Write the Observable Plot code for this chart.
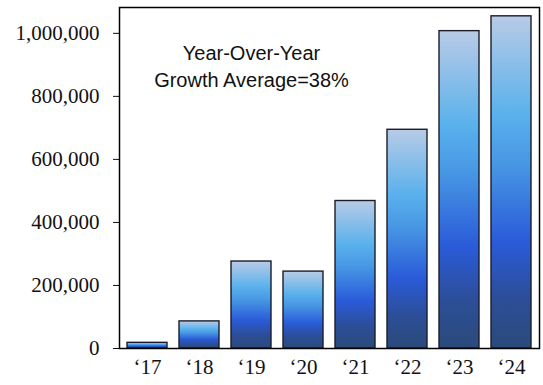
<!DOCTYPE html>
<html>
<head>
<meta charset="utf-8">
<script src="https://cdn.jsdelivr.net/npm/d3@7"></script>
<script src="https://cdn.jsdelivr.net/npm/@observablehq/plot@0.6"></script>
<style>
  html, body { margin: 0; padding: 0; background: #fff; }
  #chart svg { display: block; }
</style>
</head>
<body>
<div id="chart"></div>
<script>
const years = ["‘17", "‘18", "‘19", "‘20", "‘21", "‘22", "‘23", "‘24"];
const values = [18000, 86000, 276000, 244000, 468000, 694000, 1007000, 1054000];
const yTicks = [0, 200000, 400000, 600000, 800000, 1000000];
const annotation = ["Year-Over-Year\nGrowth Average=38%"];

const data = years.map((year, i) => ({year, value: values[i]}));

const chart = Plot.plot({
  width: 543,
  height: 385,
  marginLeft: 119,
  marginRight: 4,
  marginTop: 7,
  marginBottom: 37,
  style: {fontFamily: "'Liberation Serif', 'Times New Roman', serif", fontSize: "21px", color: "#111", background: "#fff"},
  x: {domain: years, paddingInner: 0.23, paddingOuter: 0.1, label: null, tickSize: 0, tickPadding: 11},
  y: {domain: [0, 1082000], ticks: yTicks, tickFormat: d3.format(","), label: null, tickSize: 6, tickPadding: 14},
  marks: [
    Plot.barY(data, {x: "year", y: "value", fill: "url(#barGrad)", stroke: "#1b1d2b", strokeWidth: 1.4}),
    Plot.frame({stroke: "#000", strokeWidth: 1.5}),
    Plot.text(annotation, {x: () => "‘19", frameAnchor: "top", lineAnchor: "top", dy: 33, lineHeight: 1.35,
      fontFamily: "'Liberation Sans', Arial, sans-serif", fontSize: 20, fill: "#111", text: d => d})
  ]
});

const svg = d3.select(chart);
const defs = svg.insert("defs", ":first-child");
const grad = defs.append("linearGradient").attr("id", "barGrad")
  .attr("x1", 0).attr("y1", 0).attr("x2", 0).attr("y2", 1);
[[0, "#b8cbe6"], [0.3, "#59b1ec"], [0.45, "#4796e4"], [0.68, "#2a5bd9"], [0.85, "#2c4e98"], [1, "#2b4a7a"]]
  .forEach(([o, c]) => grad.append("stop").attr("offset", o).attr("stop-color", c));

document.getElementById("chart").appendChild(chart);
</script>
</body>
</html>
